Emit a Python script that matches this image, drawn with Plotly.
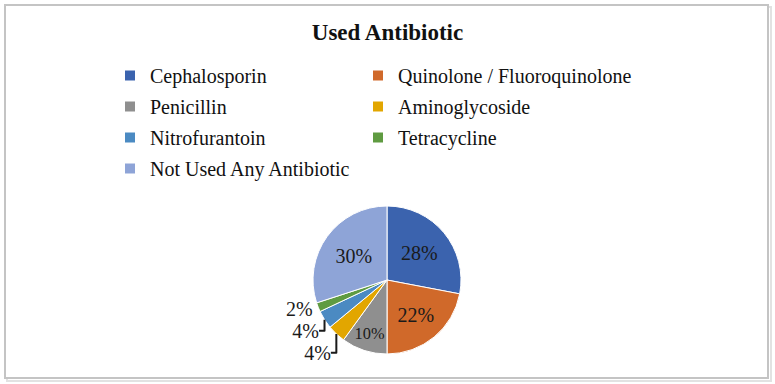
import plotly.graph_objects as go

categories = ["Cephalosporin", "Quinolone / Fluoroquinolone", "Penicillin", "Aminoglycoside",
              "Nitrofurantoin", "Tetracycline", "Not Used Any Antibiotic"]
values = [28, 22, 10, 4, 4, 2, 30]
colors = ["#3B63AE", "#D0692A", "#8F8F8F", "#E2A600", "#4B8AC2", "#5F9B41", "#8EA4D7"]
text_positions = ["inside", "inside", "inside", "outside", "outside", "outside", "inside"]
legend_column = [1, 2, 1, 2, 1, 2, 1]

W, H = 775, 384
FONT = "Liberation Serif"

fig = go.Figure()
fig.add_trace(go.Pie(
    labels=categories,
    values=values,
    sort=False,
    direction="clockwise",
    rotation=0,
    marker=dict(colors=colors, line=dict(color="white", width=1)),
    texttemplate="%{value}%",
    textposition=text_positions,
    insidetextorientation="horizontal",
    insidetextfont=dict(color="#1a1a1a", size=20, family=FONT),
    outsidetextfont=dict(color="#1a1a1a", size=20, family=FONT),
    domain=dict(x=[313 / W, 461 / W], y=[1 - 354 / H, 1 - 206 / H]),
    hoverinfo="label+percent",
    showlegend=False,
))

# legend entries (two columns, like the original chart)
for name, col, c in zip(categories, legend_column, colors):
    fig.add_trace(go.Scatter(
        x=[None], y=[None], mode="markers", name=name,
        marker=dict(symbol="square", size=10, color=c),
        legend="legend" if col == 1 else "legend2",
        legendgroup=name,
        hoverinfo="skip",
    ))

legend_common = dict(
    orientation="v",
    yanchor="top",
    font=dict(family=FONT, size=20, color="#111111"),
    bgcolor="rgba(0,0,0,0)",
    itemwidth=30,
    tracegroupgap=2,
    itemclick=False, itemdoubleclick=False,
)

fig.update_layout(
    width=W, height=H,
    margin=dict(l=0, r=0, t=0, b=0),
    paper_bgcolor="white",
    plot_bgcolor="white",
    xaxis=dict(visible=False),
    yaxis=dict(visible=False),
    title=dict(text="<b>Used Antibiotic</b>", x=0.5, xanchor="center", y=1 - 32 / H, yanchor="middle",
               font=dict(family=FONT, size=23, color="#111111")),
    legend=dict(x=110 / W, xanchor="left", y=1 - 56 / H, **legend_common),
    legend2=dict(x=358 / W, xanchor="left", y=1 - 56 / H, **legend_common),
    showlegend=True,
    shapes=[
        dict(type="rect", xref="paper", yref="paper",
             x0=7 / W, x1=771 / W, y0=1 - 381 / H, y1=1 - 7 / H,
             line=dict(color="#e2e2e2", width=2), fillcolor="rgba(0,0,0,0)", layer="below"),
        dict(type="rect", xref="paper", yref="paper",
             x0=5 / W, x1=768 / W, y0=1 - 378 / H, y1=1 - 5 / H,
             line=dict(color="#c4c4c4", width=2), fillcolor="white", layer="below"),
    ],
)

fig.write_html("out.html", config={"displayModeBar": False},
               post_script="document.body.style.margin='0';document.body.style.overflow='hidden';")
